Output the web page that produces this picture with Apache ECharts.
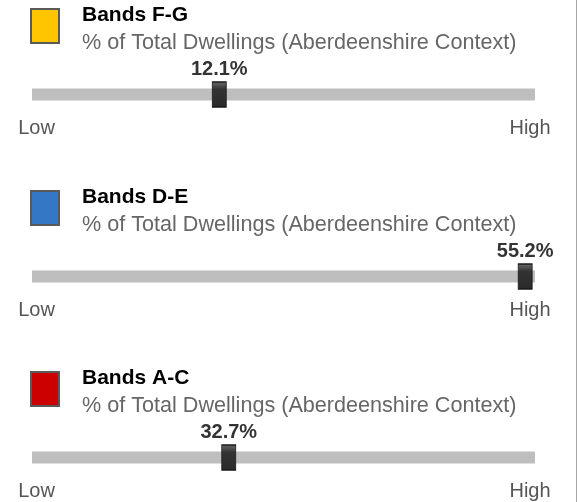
<!DOCTYPE html>
<html>
<head>
<meta charset="utf-8">
<script src="https://cdn.jsdelivr.net/npm/echarts@6/dist/echarts.min.js"></script>
<style>
	html, body { margin: 0; padding: 0; background: #fff; }
	#chart { width: 576px; height: 502px; border-right: 1px solid #a6a6a6; }
</style>
</head>
<body>
<div id="chart"></div>
<script>
// bands, shares and the Aberdeenshire context range (low / high)
var bandNames = ['Bands F-G', 'Bands D-E', 'Bands A-C'];
var bandColors = ['#ffc600', '#3478c5', '#cc0000'];
var shareValues = [12.1, 55.2, 32.7];
var lowValues = [0, 0, 0];
var highValues = [32.5, 56.3, 83.6];
var subTitle = '% of Total Dwellings (Aberdeenshire Context)';
var endLabels = ['Low', 'High'];

var panelTop = [0, 182, 363];
var FONT = 'Liberation Sans, Arial, sans-serif';

var grids = [], xAxes = [], yAxes = [], series = [], titles = [], squares = [];

for (var i = 0; i < bandNames.length; i++) {
	var off = panelTop[i];
	grids.push({ left: 32, right: 41, top: 82 + off, height: 25 });
	(function(low, high){
		xAxes.push({
			gridIndex: i,
			type: 'value',
			min: low,
			max: high,
			axisLine: { show: false },
			axisTick: { show: false },
			splitLine: { show: false },
			axisLabel: {
				customValues: [low, high],
				margin: 11,
				fontFamily: FONT,
				fontSize: 20,
				color: '#555',
				formatter: function(v){
					return v === low ? '{lo|' + endLabels[0] + '}' : '{hi|' + endLabels[1] + '}';
				},
				rich: {
					lo: { fontSize: 20, color: '#555', padding: [0, 0, 0, 9], fontFamily: FONT },
					hi: { fontSize: 20, color: '#555', padding: [0, 10, 0, 0], fontFamily: FONT }
				}
			}
		});
	})(lowValues[i], highValues[i]);
	yAxes.push({
		gridIndex: i,
		type: 'category',
		data: [''],
		show: false
	});
	// track
	series.push({
		type: 'bar',
		xAxisIndex: i,
		yAxisIndex: i,
		data: [highValues[i]],
		barWidth: 12,
		silent: true,
		itemStyle: { color: '#bebebe' }
	});
	// handle
	series.push({
		type: 'scatter',
		xAxisIndex: i,
		yAxisIndex: i,
		data: [[shareValues[i], 0]],
		symbol: 'rect',
		symbolSize: [14, 25],
		z: 5,
		itemStyle: {
			color: new echarts.graphic.LinearGradient(0, 0, 0, 1, [
				{ offset: 0, color: '#6e6e6e' },
				{ offset: 0.3, color: '#333333' },
				{ offset: 1, color: '#2a2a2a' }
			]),
			borderColor: '#1a1a1a',
			borderWidth: 1,
			opacity: 1
		},
		label: {
			show: true,
			position: 'top',
			distance: 2,
			fontFamily: FONT,
			fontSize: 20,
			fontWeight: 'bold',
			color: '#333',
			formatter: function(p){ return p.value[0].toFixed(1) + '%'; }
		}
	});
	titles.push({
		text: bandNames[i],
		subtext: subTitle,
		left: 82,
		top: 5 + off,
		padding: 0,
		itemGap: 6,
		textStyle: { fontFamily: FONT, fontSize: 21, fontWeight: 'bold', color: '#000' },
		subtextStyle: { fontFamily: FONT, fontSize: 21.6, color: '#666' }
	});
	squares.push({
		type: 'rect',
		left: 30,
		top: 8 + off,
		shape: { width: 28, height: 34 },
		style: { fill: bandColors[i], stroke: '#5a5a5a', lineWidth: 2 }
	});
}

var chart = echarts.init(document.getElementById('chart'));
chart.setOption({
	animation: false,
	title: titles,
	grid: grids,
	xAxis: xAxes,
	yAxis: yAxes,
	series: series,
	graphic: squares
});
</script>
</body>
</html>
